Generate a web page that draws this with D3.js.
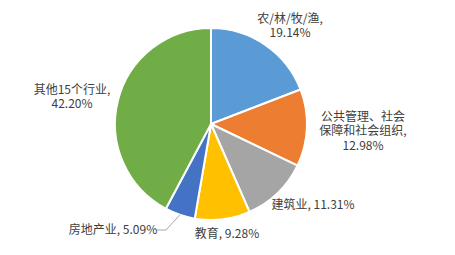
<!DOCTYPE html>
<html>
<head>
<meta charset="utf-8">
<script src="https://cdn.jsdelivr.net/npm/d3@7"></script>
<style>
  body { margin: 0; background: #fff; }
  text { font-family: "Noto Sans CJK SC", "Noto Sans", sans-serif; }
</style>
</head>
<body>
<svg id="canvas"></svg>
<script>
const WIDTH = 455;
const HEIGHT = 255;
const CX = 211;
const CY = 124;
const RADIUS = 96;

// data
const categories = ["农/林/牧/渔", "公共管理、社会保障和社会组织", "建筑业", "教育", "房地产业", "其他15个行业"];
const shares = [19.14, 12.98, 11.31, 9.28, 5.09, 42.2];
const colors = ["#5B9BD5", "#ED7D31", "#A5A5A5", "#FFC000", "#4472C4", "#70AD47"];

// label layout: text lines and centre offsets from the pie centre
const labelLines = [
  ["农/林/牧/渔,", "19.14%"],
  ["公共管理、社会", "保障和社会组织,", "12.98%"],
  ["建筑业, 11.31%"],
  ["教育, 9.28%"],
  ["房地产业, 5.09%"],
  ["其他15个行业,", "42.20%"]
];
const labelPos = [[79, -98], [152, 7], [102, 81], [16, 110], [-98, 106], [-139, -27]];

const values = categories.map((c, i) => ({ name: c, value: shares[i], color: colors[i], idx: i }));

const canvas = d3.select("#canvas").attr("width", WIDTH).attr("height", HEIGHT);

const pie = d3.pie().sort(null).value((d) => d.value);
const arc = d3.arc().innerRadius(0).outerRadius(RADIUS);
const arcs = pie(values);

const g = canvas.append("g").attr("transform", `translate(${CX}, ${CY})`);

g.selectAll("path")
  .data(arcs)
  .enter()
  .append("path")
  .attr("d", arc)
  .attr("fill", (d) => d.data.color)
  .attr("stroke", "#fff")
  .attr("stroke-width", 2)
  .attr("stroke-linejoin", "round");

// leader line for the small slice
const small = arcs[4];
const mid = (small.startAngle + small.endAngle) / 2;
const edge = [Math.sin(mid) * RADIUS, -Math.cos(mid) * RADIUS];
const lp = labelPos[4];
g.append("polyline")
  .attr("points", [[lp[0] + 44, lp[1]], [lp[0] + 53, lp[1]], edge].map((p) => p.join(",")).join(" "))
  .attr("fill", "none")
  .attr("stroke", "#a6a6a6")
  .attr("stroke-width", 1);

const LINE_H = 14.5;
labelLines.forEach((lines, i) => {
  const [x, y] = labelPos[i];
  const t = g.append("text")
    .attr("text-anchor", "middle")
    .attr("font-size", 12)
    .attr("fill", "#404040");
  const y0 = y - ((lines.length - 1) * LINE_H) / 2;
  lines.forEach((line, j) => {
    t.append("tspan")
      .attr("x", x)
      .attr("y", y0 + j * LINE_H)
      .attr("dy", "0.35em")
      .text(line);
  });
});
</script>
</body>
</html>
